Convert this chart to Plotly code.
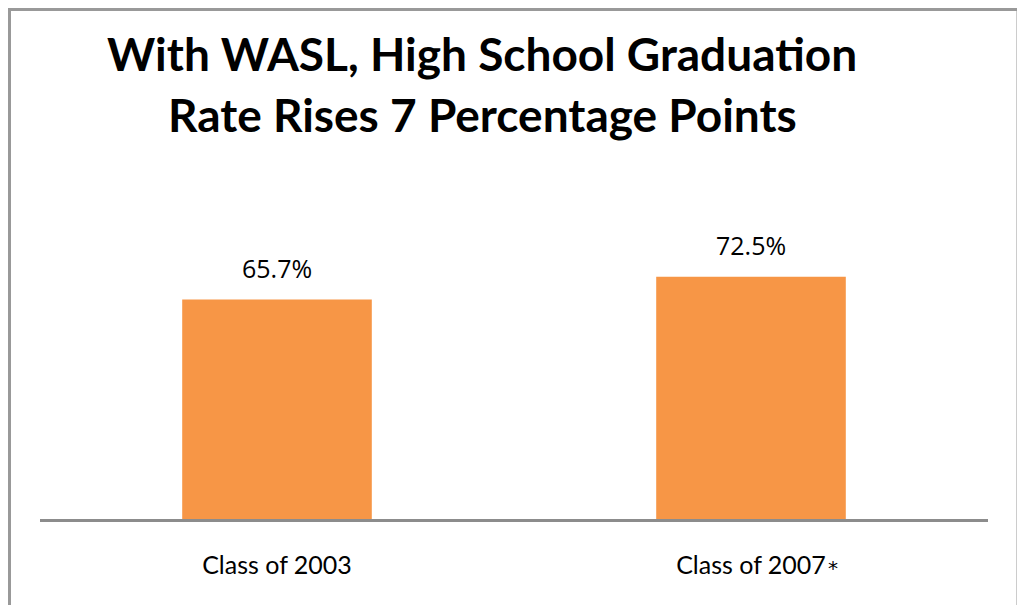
import plotly.graph_objects as go

categories = ["Class of 2003", "Class of 2007"]
rates = [65.7, 72.5]
rate_labels = ["65.7%", "72.5%"]
category_notes = ["", "*"]
title_lines = ["With WASL, High School Graduation", "Rate Rises 7 Percentage Points"]

BAR_COLOR = "#F79646"
AXIS_COLOR = "#8C8C8C"

# page has an 8px body margin; figure is sized to fill the rest of the window
W, H = 1017, 597
L, R, T, B = 32, 37, 177, 86
PW, PH = W - L - R, H - T - B


def px_x(px):  # page px -> paper
    return (px - 8 - L) / PW


def px_y(py):
    return (H - B - (py - 8)) / PH


fig = go.Figure()
fig.add_trace(go.Bar(
    x=categories, y=rates, marker=dict(color=BAR_COLOR, line=dict(width=0)),
    width=0.4, hoverinfo="skip",
))

for c, v, t in zip(categories, rates, rate_labels):
    fig.add_annotation(x=c, y=v, text=t, showarrow=False, xref="x", yref="y",
                       yanchor="bottom", yshift=13,
                       font=dict(family="Open Sans, DejaVu Sans, sans-serif", size=25, color="#000"))

for c, n in zip(categories, category_notes):
    if n:
        fig.add_annotation(x=c, y=px_y(568), text=n, showarrow=False, xref="x", yref="paper",
                           xanchor="left", yanchor="middle", xshift=75,
                           font=dict(family="DejaVu Sans, sans-serif", size=20, color="#000"))

for i, line in enumerate(title_lines):
    fig.add_annotation(x=px_x(482), y=px_y([53, 114][i]), xref="paper", yref="paper",
                       text=line, showarrow=False, xanchor="center", yanchor="middle",
                       font=dict(family="Lato, sans-serif", size=46, color="#000", weight="bold"))

fig.add_shape(type="rect", xref="paper", yref="paper",
              x0=px_x(9.5), x1=px_x(1018), y0=px_y(640), y1=px_y(9.5),
              line=dict(color="#999999", width=3), fillcolor="rgba(0,0,0,0)", layer="below")

fig.update_layout(
    width=W, height=H,
    margin=dict(l=L, r=R, t=T, b=B),
    paper_bgcolor="white", plot_bgcolor="white",
    showlegend=False,
    xaxis=dict(
        range=[-0.5, 1.5], showline=True, linewidth=3, linecolor=AXIS_COLOR,
        ticks="", showgrid=False, zeroline=False,
        tickfont=dict(family="Lato, sans-serif", size=25, color="#000"),
        ticklabelstandoff=22,
    ),
    yaxis=dict(range=[0, 100], visible=False, showgrid=False, zeroline=False),
)

fig.write_html("out.html")
